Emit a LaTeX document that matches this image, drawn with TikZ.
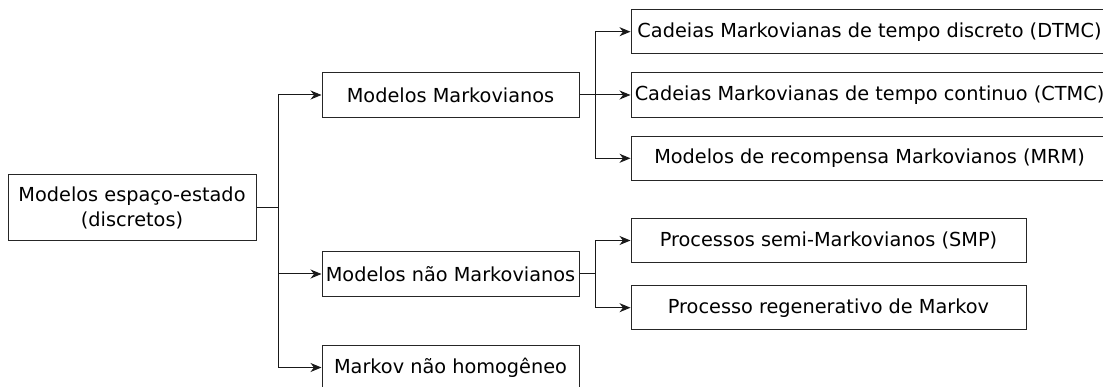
\documentclass[tikz,border=0pt]{standalone}
\usepackage{fontspec}
\setmainfont{DejaVu Sans}
\usetikzlibrary{arrows.meta}
\begin{document}
\begin{tikzpicture}[x=1pt,y=-1pt,
  box/.style={draw=black!85, line width=1pt, inner sep=0pt, align=center,
    font=\fontsize{19.3}{24.5}\selectfont, minimum height=44.5pt},
  conn/.style={line width=1pt, draw=black!90},
  arr/.style={conn, -{Stealth[length=11pt,width=9pt,inset=3.5pt]}}]
\useasboundingbox (0,0) rectangle (1103,387);
% nodes
\node[box, minimum width=248pt, minimum height=66pt] (root) at (132,208) {Modelos espaço-estado\\(discretos)};
\node[box, minimum width=257pt] (mm) at (450.5,95) {Modelos Markovianos};
\node[box, minimum width=257pt] (mnm) at (450.5,274) {Modelos não Markovianos};
\node[box, minimum width=257pt] (mnh) at (450.5,367.5) {Markov não homogêneo};
\node[box, minimum width=477pt] (dtmc) at (869.5,31.7) {Cadeias Markovianas de tempo discreto (DTMC)};
\node[box, minimum width=477pt] (ctmc) at (869.5,95) {Cadeias Markovianas de tempo continuo (CTMC)};
\node[box, minimum width=477pt] (mrm) at (869.5,158.3) {Modelos de recompensa Markovianos (MRM)};
\node[box, minimum width=395pt] (smp) at (828.5,240.5) {Processos semi-Markovianos (SMP)};
\node[box, minimum width=395pt] (mrp) at (828.5,307.7) {Processo regenerativo de Markov};
% junctions
\coordinate (j0) at (278,208);
\coordinate (j1) at (595,95);
\coordinate (j2) at (595,274);
% connectors
\draw[conn] (root.east) -- (j0);
\draw[arr] (j0) |- (mm.west);
\draw[arr] (j0) |- (mnm.west);
\draw[arr] (j0) |- (mnh.west);
\draw[conn] (mm.east) -- (j1);
\draw[arr] (j1) |- (dtmc.west);
\draw[arr] (j1) -- (ctmc.west);
\draw[arr] (j1) |- (mrm.west);
\draw[conn] (mnm.east) -- (j2);
\draw[arr] (j2) |- (smp.west);
\draw[arr] (j2) |- (mrp.west);
\end{tikzpicture}
\end{document}
